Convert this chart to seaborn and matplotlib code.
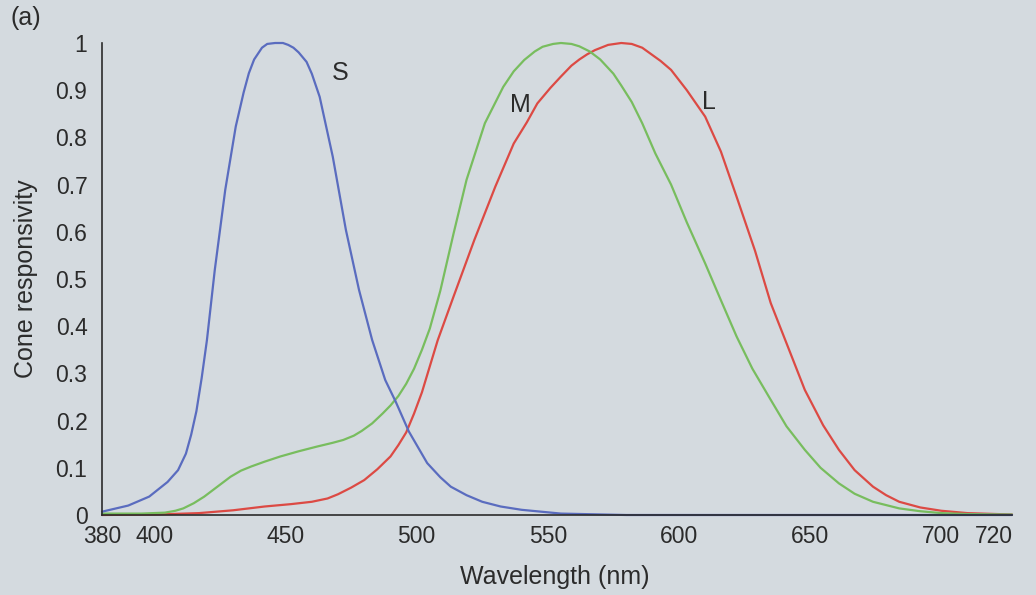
import matplotlib
matplotlib.use("Agg")
import matplotlib.pyplot as plt
import seaborn as sns
import pandas as pd

# ---- data ----
s_nm = [380, 390, 398, 405, 409, 412, 414, 416, 418, 420, 423, 427, 431, 434, 436, 438, 441, 443,
        446, 449, 451, 453, 455, 458, 460, 463, 468, 473, 478, 483, 488, 492, 497, 504, 509, 513,
        519, 525, 532, 540, 555, 580, 727]
s_val = [0.007, 0.02, 0.039, 0.07, 0.095, 0.13, 0.17, 0.22, 0.29, 0.37, 0.519, 0.689, 0.823, 0.895,
         0.936, 0.965, 0.99, 0.998, 1.0, 1.0, 0.996, 0.99, 0.98, 0.96, 0.935, 0.886, 0.759, 0.604,
         0.477, 0.371, 0.286, 0.240, 0.177, 0.110, 0.08, 0.060, 0.042, 0.028, 0.018, 0.011, 0.003,
         0.0, 0.0]

m_nm = [380, 395, 404, 408, 411, 415, 419, 424, 429, 433, 437, 442, 448, 455, 462, 468, 472, 476,
        479, 483, 487, 490, 493, 496, 499, 502, 505, 509, 514, 519, 526, 533, 537, 541, 545, 548,
        552, 555, 559, 562, 566, 570, 575, 578, 582, 586, 591, 597, 603, 610, 616, 622, 628, 635,
        641, 648, 654, 661, 667, 674, 684, 692, 700, 710, 727]
m_val = [0.003, 0.003, 0.005, 0.009, 0.014, 0.025, 0.039, 0.06, 0.081, 0.094, 0.103, 0.113, 0.124,
         0.135, 0.145, 0.153, 0.159, 0.168, 0.178, 0.194, 0.215, 0.232, 0.252, 0.278, 0.31, 0.35,
         0.395, 0.475, 0.595, 0.71, 0.830, 0.907, 0.94, 0.964, 0.982, 0.992, 0.998, 1.0, 0.998,
         0.993, 0.982, 0.965, 0.935, 0.91, 0.875, 0.83, 0.766, 0.700, 0.62, 0.533, 0.455, 0.378,
         0.31, 0.244, 0.188, 0.138, 0.1, 0.067, 0.045, 0.028, 0.014, 0.008, 0.004, 0.002, 0.001]

l_nm = [380, 400, 417, 430, 442, 452, 460, 466, 470, 475, 480, 485, 490, 493, 496, 499, 502, 505,
        508, 514, 522, 530, 537, 542, 546, 551, 555, 559, 562, 565, 568, 573, 578, 582, 586, 589,
        593, 597, 603, 610, 616, 622, 629, 635, 642, 648, 655, 661, 667, 674, 679, 684, 692, 700,
        710, 727]
l_val = [0.0, 0.001, 0.004, 0.01, 0.018, 0.023, 0.028, 0.035, 0.044, 0.058, 0.074, 0.097, 0.124,
         0.148, 0.175, 0.215, 0.26, 0.315, 0.37, 0.462, 0.583, 0.696, 0.787, 0.832, 0.872, 0.905,
         0.929, 0.952, 0.965, 0.976, 0.985, 0.996, 1.0, 0.998, 0.99, 0.978, 0.962, 0.943, 0.90,
         0.844, 0.77, 0.674, 0.56, 0.449, 0.35, 0.265, 0.19, 0.138, 0.095, 0.060, 0.042, 0.028,
         0.016, 0.009, 0.004, 0.001]

cones = ["S", "M", "L"]
x_ticks = [380, 400, 450, 500, 550, 600, 650, 700, 720]
y_ticks = [0, 0.1, 0.2, 0.3, 0.4, 0.5, 0.6, 0.7, 0.8, 0.9, 1]
y_ticklabels = ["0", "0.1", "0.2", "0.3", "0.4", "0.5", "0.6", "0.7", "0.8", "0.9", "1"]

df = pd.concat([
    pd.DataFrame({"nm": s_nm, "resp": s_val, "cone": "S"}),
    pd.DataFrame({"nm": m_nm, "resp": m_val, "cone": "M"}),
    pd.DataFrame({"nm": l_nm, "resp": l_val, "cone": "L"}),
])

bg = "#d4dadf"
ink = "#2b2b2b"
palette = {"S": "#5a6cbf", "M": "#78bd5e", "L": "#dc4a44"}

sns.set_theme(style="white")
plt.rcParams["font.family"] = ["Liberation Sans", "DejaVu Sans"]

fig = plt.figure(figsize=(10.36, 5.95), dpi=100)
fig.patch.set_facecolor(bg)
ax = fig.add_axes([102 / 1036, 80 / 595, 910 / 1036, 472 / 595])
ax.set_facecolor(bg)

sns.lineplot(data=df, x="nm", y="resp", hue="cone", palette=palette, hue_order=["L", "M", "S"],
             estimator=None, sort=True, linewidth=1.6, legend=False, ax=ax)
for ln in ax.lines:
    ln.set_clip_on(False)
    ln.set_solid_joinstyle("round")

ax.set_xlim(380, 727)
ax.set_ylim(0, 1.0)
ax.set_xticks(x_ticks)
ax.set_xticklabels([str(t) for t in x_ticks])
ax.set_yticks(y_ticks)
ax.set_yticklabels(y_ticklabels)

for side in ["top", "right"]:
    ax.spines[side].set_visible(False)
for side in ["left", "bottom"]:
    ax.spines[side].set_color(ink)
    ax.spines[side].set_linewidth(1.2)

ax.tick_params(axis="both", direction="inout", length=7, width=1.0, color=ink,
               labelsize=16.5, labelcolor=ink)
ax.tick_params(axis="x", pad=4)
ax.tick_params(axis="y", pad=7)

ax.set_xlabel("Wavelength (nm)", fontsize=18, color=ink)
ax.set_ylabel("Cone responsivity", fontsize=18, color=ink)
ax.xaxis.set_label_coords(0.497, -0.131)
ax.yaxis.set_label_coords(-0.084, 0.5)
ax.xaxis.label.set_va("center")
ax.yaxis.label.set_va("center")

label_pos = {"S": (471, 0.936), "M": (539.5, 0.868), "L": (611.5, 0.876)}
for c in cones:
    x, y = label_pos[c]
    ax.text(x, y, c, fontsize=18, color=ink, ha="center", va="center")

fig.text(10 / 1036, 1 - 18 / 595, "(a)", fontsize=18, color=ink, ha="left", va="center")

fig.savefig("out.png", dpi=100, facecolor=bg)
